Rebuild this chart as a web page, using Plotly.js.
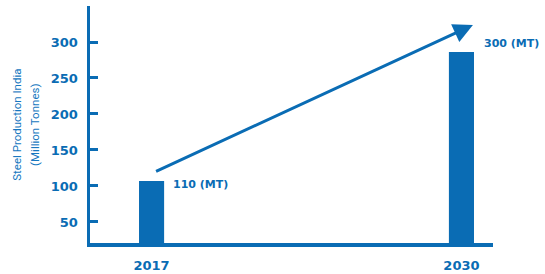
<!DOCTYPE html>
<html><head><meta charset="utf-8">
<script src="https://cdn.plot.ly/plotly-3.0.1.min.js"></script>
<style>html,body{margin:0;padding:0;background:#fff}#chart{width:545px;height:274px}</style>
</head><body><div id="chart"></div>
<script>
const years = ["2017", "2030"];
const production = [107, 286];
const valueLabels = ["110 (MT)", "300 (MT)"];
const yTicks = [50, 100, 150, 200, 250, 300];
const yTitleLines = ["Steel Production India", "(Million Tonnes)"];

const BLUE = "#0a6cb4";
const boldFont = {family: "DejaVu Sans", size: 13, color: BLUE, weight: "bold"};

const trace = {
  type: "bar", x: years, y: production, width: 0.081,
  marker: {color: BLUE}, hoverinfo: "skip"
};

const labelShifts = [{xs: 19, ys: -4}, {xs: 21, ys: 9}];
const annotations = valueLabels.map((t, i) => ({
  x: i, y: production[i], xref: "x", yref: "y", text: t,
  showarrow: false, xanchor: "left", yanchor: "middle",
  xshift: labelShifts[i].xs, yshift: labelShifts[i].ys,
  font: {family: "DejaVu Sans", size: 11, color: BLUE, weight: "bold"}
}));
// growth arrow from 2017 bar to 2030 bar
annotations.push({
  x: 1.037, y: 323.6, xref: "x", yref: "y",
  ax: 0.0097, ay: 119.4, axref: "x", ayref: "y",
  showarrow: true, arrowhead: 2, arrowsize: 1.3, arrowwidth: 3, arrowcolor: BLUE,
  text: "", standoff: 0, startstandoff: 0
});
yTitleLines.forEach((t, i) => annotations.push({
  x: [-0.183, -0.138][i], y: 0.5, xref: "paper", yref: "paper",
  text: t, textangle: -90, showarrow: false, xanchor: "center", yanchor: "middle",
  font: {family: "Roboto", size: 11.5, color: "#1577c0"}
}));

const layout = {
  width: 545, height: 274,
  margin: {l: 90, r: 52, t: 6, b: 31, pad: 0},
  paper_bgcolor: "#fff", plot_bgcolor: "#fff",
  showlegend: false,
  xaxis: {
    type: "category", range: [-0.1987, 1.1018],
    showline: true, linecolor: BLUE, linewidth: 3.5,
    showgrid: false, zeroline: false, ticks: "",
    tickfont: boldFont, ticklabelstandoff: 8
  },
  yaxis: {
    range: [20.8, 350], showline: true, linecolor: BLUE, linewidth: 3.5,
    showgrid: false, zeroline: false,
    tickvals: yTicks, ticktext: yTicks.map(String),
    ticks: "inside", ticklen: 8, tickwidth: 3, tickcolor: BLUE,
    tickfont: boldFont, ticklabelstandoff: 6
  },
  annotations: annotations
};
Plotly.newPlot("chart", [trace], layout, {displayModeBar: false, staticPlot: true});
</script></body></html>
